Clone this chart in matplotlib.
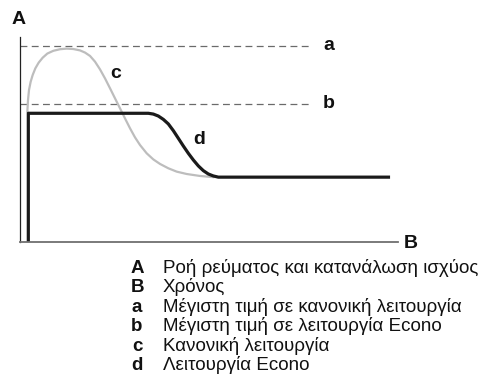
import matplotlib
matplotlib.use("Agg")
import matplotlib.pyplot as plt

plt.rcParams['font.family'] = ['Liberation Sans', 'DejaVu Sans']

# Data (time units 0..100, value units 0..~104)
normal_t = [1.94, 2.12, 2.38, 2.82, 3.35, 4.06, 4.94, 6.0, 7.23, 8.82, 10.58,
            12.35, 14.11, 15.87, 17.2, 18.52, 19.84, 21.16, 22.49, 23.81,
            25.13, 26.46, 27.78, 29.1, 30.42, 31.75, 33.51, 35.27, 37.04,
            39.24, 41.45, 44.09, 47.62, 51.15]
normal_v = [66.1, 72.0, 77.1, 81.3, 84.7, 88.1, 91.0, 93.5, 95.6, 97.0, 97.8,
            98.1, 97.9, 97.2, 96.1, 94.4, 91.5, 87.6, 83.0, 78.0,
            72.9, 67.8, 62.7, 57.7, 53.1, 49.2, 45.0, 41.9, 39.6,
            37.4, 35.7, 34.5, 33.5, 32.9]

econo_t = [2.2, 2.2, 33.95, 35.27, 36.6, 37.92, 39.24, 40.56, 41.89, 43.21,
           44.53, 45.86, 47.18, 48.5, 49.82, 51.15, 52.47, 97.9]
econo_v = [0.0, 65.3, 65.3, 64.9, 63.9, 62.2, 59.9, 56.5, 52.6, 48.7,
           45.0, 41.6, 38.6, 36.2, 34.5, 33.5, 32.9, 32.9]

max_normal = 99.2
max_econo = 70.0
dash_end = 77.2

curve_labels = ['a', 'b', 'c', 'd']
legend_keys = ['A', 'B', 'a', 'b', 'c', 'd']
legend_texts = ['Ροή ρεύματος και κατανάλωση ισχύος',
                'Χρόνος',
                'Μέγιστη τιμή σε κανονική λειτουργία',
                'Μέγιστη τιμή σε λειτουργία Econo',
                'Κανονική λειτουργία',
                'Λειτουργία Econo']

W, H = 482, 382
fig = plt.figure(figsize=(W / 100, H / 100), dpi=100)
ax = fig.add_axes([20 / W, 140 / H, 378 / W, 205 / H])
ax.set_xlim(0, 100)
ax.set_ylim(0, 104)
for s in ['top', 'right']:
    ax.spines[s].set_visible(False)
ax.spines['left'].set_color('#222222')
ax.spines['left'].set_linewidth(0.9)
ax.spines['bottom'].set_color('#707070')
ax.spines['bottom'].set_linewidth(1.3)
ax.set_xticks([])
ax.set_yticks([])
ax.patch.set_alpha(0)

# dashed max lines
for yv in [max_normal, max_econo]:
    ax.plot([0, dash_end], [yv, yv], color='#6a6a6a', lw=0.9,
            dashes=(5.5, 3.5), solid_capstyle='butt', clip_on=False)

ax.plot(normal_t, normal_v, color='#bdbdbd', lw=1.6, clip_on=False,
        solid_joinstyle='round')
ax.plot(econo_t, econo_v, color='#1a1a1a', lw=2.3, clip_on=False,
        solid_joinstyle='round', solid_capstyle='butt')

def px(x, y):
    return x / W, 1 - y / H

lab_kw = dict(fontsize=14, fontweight='bold', color='#111111')
fig.text(*px(323, 45), curve_labels[0], ha='left', va='center', **lab_kw)
fig.text(*px(323, 103), curve_labels[1], ha='left', va='center', **lab_kw)
fig.text(*px(116, 73), curve_labels[2], ha='center', va='center', **lab_kw)
fig.text(*px(199, 139), curve_labels[3], ha='center', va='center', **lab_kw)

fig.text(*px(19, 20), 'A', ha='center', va='center', **lab_kw)
fig.text(*px(411, 243), 'B', ha='center', va='center', **lab_kw)

y0, dy = 273, 19.4
for i, (k, t) in enumerate(zip(legend_keys, legend_texts)):
    yb = y0 + i * dy
    fig.text(*px(137, yb), k, ha='center', va='baseline', fontsize=13.5,
             fontweight='bold', color='#111111')
    fig.text(*px(163, yb), t, ha='left', va='baseline', fontsize=13.5,
             color='#111111')

fig.savefig('out.png', dpi=100)
